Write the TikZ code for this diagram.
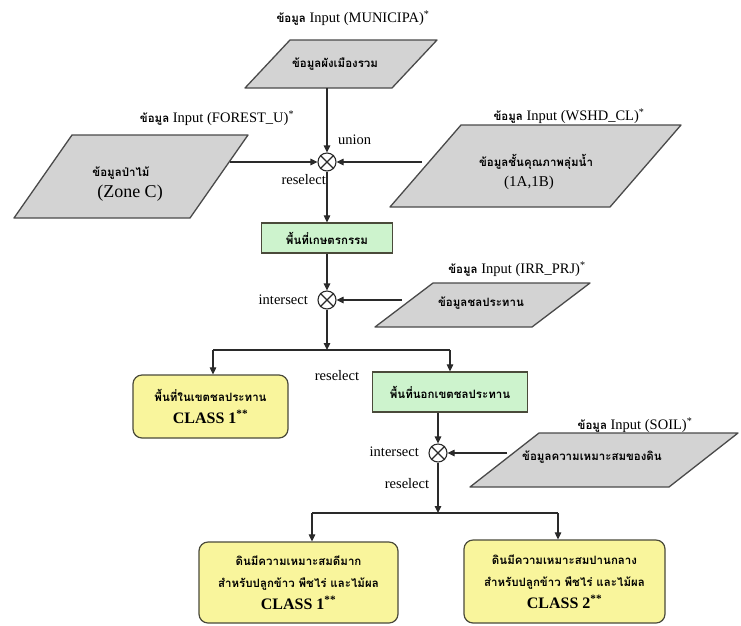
\documentclass[tikz,border=0pt]{standalone}
\usepackage{fontspec}
\setmainfont{Liberation Serif}
\newfontfamily\thai[Script=Thai]{Loma}
\usetikzlibrary{arrows.meta}
\definecolor{paraFill}{HTML}{D3D3D3}
\definecolor{paraDraw}{HTML}{4A4A4A}
\definecolor{greenFill}{HTML}{CDF3CD}
\definecolor{yellowFill}{HTML}{F9F59C}
\definecolor{boxDraw}{HTML}{4A4A3A}
\definecolor{lineC}{HTML}{2A2A2A}
\newcommand\thb{\thai\bfseries\fontsize{11.5}{14}\selectfont}
\begin{document}
\begin{tikzpicture}[x=1pt,y=-1pt,
  font=\fontsize{14.5}{16}\selectfont,
  arr/.style={draw=lineC, line width=1.1pt, -{Triangle[length=7pt,width=6.5pt]}},
  ln/.style={draw=lineC, line width=1.1pt},
  parabox/.style={fill=paraFill, draw=paraDraw, line width=1.3pt, line join=round},
  txt/.style={inner sep=0pt, align=center},
  th/.style={inner sep=0pt, align=center, font=\thb},
  greenbox/.style={draw=boxDraw, fill=greenFill, line width=1.2pt, inner sep=0pt, font=\thb},
  yellowbox/.style={draw=boxDraw, fill=yellowFill, line width=1.2pt, inner sep=0pt,
     rounded corners=9pt, align=center},
  xcirc/.style={circle, draw=lineC, line width=1.1pt, minimum size=18pt, inner sep=0pt},
]
\useasboundingbox (0,0) rectangle (741,625);

% ---------- MUNICIPA ----------
\node[txt] (lmun) at (353,18) {{\thb ข้อมูล} Input (MUNICIPA)\textsuperscript{*}};
\draw[parabox] (290,40) -- (437,40) -- (392,88) -- (245,88) -- cycle;
\node[th] (pmun) at (335,64) {ข้อมูลผังเมืองรวม};
\coordinate (pmunb) at (327,88);

% ---------- union circle ----------
\node[xcirc] (c1) at (327,162) {};
\draw[ln] (c1.45) -- (c1.225) (c1.135) -- (c1.315);
\node[txt, anchor=west] (un) at (338,140) {union};
\node[txt, anchor=east] (rs1) at (326,180) {reselect};

% ---------- FOREST_U ----------
\node[txt] (lfor) at (217,118) {{\thb ข้อมูล} Input (FOREST\_U)\textsuperscript{*}};
\draw[parabox] (72,135) -- (248,135) -- (190,218) -- (14,218) -- cycle;
\node[th] (pfor) at (121,173) {ข้อมูลป่าไม้};
\node[txt, font=\fontsize{18}{20}\selectfont] (pfor2) at (130,193) {(Zone C)};
\coordinate (pforr) at (230,162);

% ---------- WSHD_CL ----------
\node[txt] (lwshd) at (569,116) {{\thb ข้อมูล} Input (WSHD\_CL)\textsuperscript{*}};
\draw[parabox] (461,125) -- (681,125) -- (610,207) -- (390,207) -- cycle;
\node[th] (pwshd) at (536,162) {ข้อมูลชั้นคุณภาพลุ่มน้ำ};
\node[txt, font=\fontsize{15}{17}\selectfont] (pwshd2) at (529,183) {(1A,1B)};
\coordinate (pwshdl) at (422,162);

\draw[arr] (pmunb) -- (c1);
\draw[arr] (pforr) -- (c1);
\draw[arr] (pwshdl) -- (c1);

% ---------- agriculture ----------
\node[greenbox, minimum width=131pt, minimum height=30pt] (agri) at (327,238) {พื้นที่เกษตรกรรม};
\draw[arr] (c1) -- (agri);

% ---------- intersect 1 ----------
\node[xcirc] (c2) at (327,300) {};
\draw[ln] (c2.45) -- (c2.225) (c2.135) -- (c2.315);
\node[txt, anchor=east] (is1) at (308,300) {intersect};
\draw[arr] (agri) -- (c2);

\node[txt] (lirr) at (517,269) {{\thb ข้อมูล} Input (IRR\_PRJ)\textsuperscript{*}};
\draw[parabox] (433,283) -- (590,283) -- (532,327) -- (375,327) -- cycle;
\node[th] (pirr) at (481,303) {ข้อมูลชลประทาน};
\coordinate (pirrl) at (402,300);
\draw[arr] (pirrl) -- (c2);

\coordinate (s1) at (327,350);
\coordinate (s1l) at (213,350);
\coordinate (s1r) at (450,350);
\draw[arr] (c2) -- (s1);
\draw[ln] (s1l) -- (s1r);

% ---------- split 1 ----------
\node[yellowbox, minimum width=155pt, minimum height=63pt, font=\fontsize{16}{22}\selectfont] (yb1) at (210.5,406.5)
  {{\thb พื้นที่ในเขตชลประทาน}\\{\bfseries CLASS 1\textsuperscript{**}}};
\node[greenbox, minimum width=155pt, minimum height=40pt] (gb2) at (450,392) {พื้นที่นอกเขตชลประทาน};
\draw[arr] (s1l) -- (s1l |- yb1.north);
\draw[arr] (s1r) -- (s1r |- gb2.north);
\node[txt] (rs2) at (337,376) {reselect};

% ---------- intersect 2 ----------
\node[xcirc] (c3) at (438,453) {};
\draw[ln] (c3.45) -- (c3.225) (c3.135) -- (c3.315);
\node[txt, anchor=east] (is2) at (419,452) {intersect};
\node[txt] (rs3) at (407,484) {reselect};
\draw[arr] (c3 |- gb2.south) -- (c3);

\node[txt] (lsoil) at (635,425) {{\thb ข้อมูล} Input (SOIL)\textsuperscript{*}};
\draw[parabox] (539,433) -- (738,433) -- (669,487) -- (470,487) -- cycle;
\node[th] (psoil) at (592,457) {ข้อมูลความเหมาะสมของดิน};
\coordinate (psoill) at (507,453);
\draw[arr] (psoill) -- (c3);

\coordinate (s2) at (438,513);
\coordinate (s2l) at (312,513);
\coordinate (s2r) at (558,513);
\draw[arr] (c3) -- (s2);
\draw[ln] (s2l) -- (s2r);

% ---------- final classes ----------
\node[yellowbox, minimum width=199pt, minimum height=81pt, font=\fontsize{16}{22}\selectfont] (yb2) at (298.5,582.5)
  {{\thb ดินมีความเหมาะสมดีมาก}\\{\thb สำหรับปลูกข้าว พืชไร่ และไม้ผล}\\{\bfseries CLASS 1\textsuperscript{**}}};
\node[yellowbox, minimum width=201pt, minimum height=83pt, font=\fontsize{16}{22}\selectfont] (yb3) at (564.5,581.5)
  {{\thb ดินมีความเหมาะสมปานกลาง}\\{\thb สำหรับปลูกข้าว พืชไร่ และไม้ผล}\\{\bfseries CLASS 2\textsuperscript{**}}};
\draw[arr] (s2l) -- (s2l |- yb2.north);
\draw[arr] (s2r) -- (s2r |- yb3.north);
\end{tikzpicture}
\end{document}
